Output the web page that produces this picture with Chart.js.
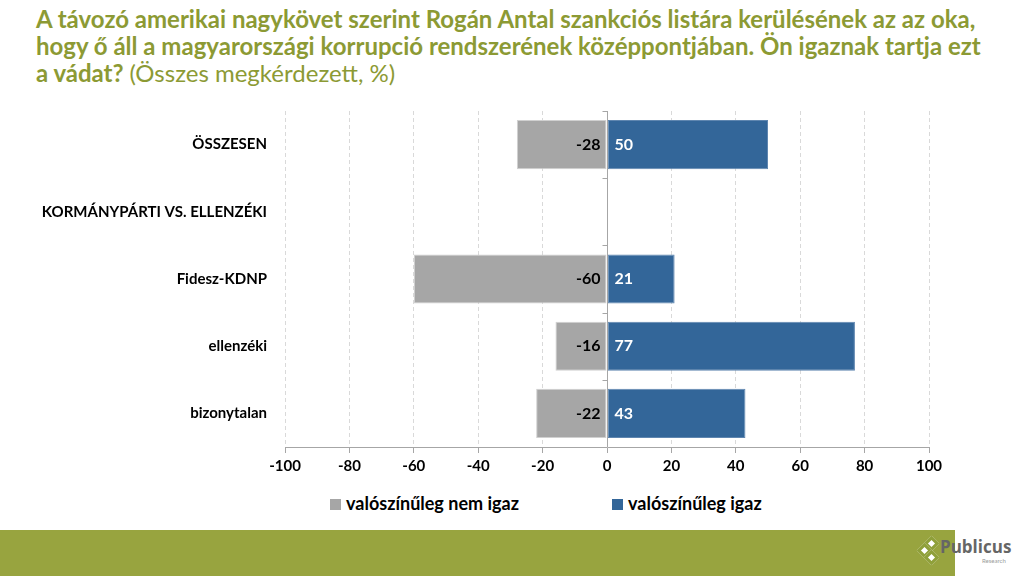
<!DOCTYPE html>
<html>
<head>
<meta charset="utf-8">
<script src="https://cdn.jsdelivr.net/npm/chart.js@4"></script>
<style>
  html, body { margin: 0; padding: 0; background: #fff; }
  body { width: 1024px; height: 576px; position: relative; overflow: hidden; font-family: Lato, 'Open Sans', sans-serif; }
  #title { position: absolute; left: 36px; top: 5px; width: 990px; color: #8c9a34; font-size: 24px; line-height: 27px; font-weight: bold; white-space: nowrap; }
  #title span { font-weight: normal; }
  #wrap { position: absolute; left: 0; top: 92px; width: 1024px; height: 388px; }
  #legend { position: absolute; top: 492px; left: 0; width: 1024px; font-size: 18px; font-weight: bold; color: #000; }
  .item { position: absolute; top: 0; white-space: nowrap; }
  .sw { display: inline-block; width: 11px; height: 11px; margin-right: 5px; vertical-align: 0px; }
  #footer { position: absolute; left: 0; top: 530px; width: 955px; height: 46px; background: #98a43f; }
  #logo { position: absolute; left: 918px; top: 537px; }
  .dia { position: absolute; width: 5px; height: 5px; transform: rotate(45deg); border: 3px solid #8fa03a; background: #fff; }
  #logo .name { position: absolute; left: 22px; top: -2px; font-size: 17px; font-weight: bold; color: #666; font-family: 'Open Sans', sans-serif; }
  #logo .res { position: absolute; left: 64px; top: 20px; font-size: 6px; color: #999; }
</style>
</head>
<body>
<div id="title">A távozó amerikai nagykövet szerint Rogán Antal szankciós listára kerülésének az az oka,<br>hogy ő áll a magyarországi korrupció rendszerének középpontjában. Ön igaznak tartja ezt<br>a vádat? <span>(Összes megkérdezett, %)</span></div>
<div id="wrap"><canvas id="chart"></canvas></div>
<div id="legend">
  <div class="item" style="left:330px"><span class="sw" style="background:#a6a6a6"></span>valószínűleg nem igaz</div>
  <div class="item" style="left:612px"><span class="sw" style="background:#336699"></span>valószínűleg igaz</div>
</div>
<div id="footer"></div>
<div id="logo">
  <div class="dia" style="left:8px;top:1px"></div>
  <div class="dia" style="left:1px;top:8px"></div>
  <div class="dia" style="left:8px;top:15px"></div>
  <div class="name">Publicus</div>
  <div class="res">Research</div>
</div>
<script>
const categories = ['ÖSSZESEN', 'KORMÁNYPÁRTI VS. ELLENZÉKI', 'Fidesz-KDNP', 'ellenzéki', 'bizonytalan'];
const notTrue = [-28, null, -60, -16, -22];
const isTrue = [50, null, 21, 77, 43];
const seriesNames = ['valószínűleg nem igaz', 'valószínűleg igaz'];
const xTicks = [-100, -80, -60, -40, -20, 0, 20, 40, 60, 80, 100];

const FONT = "Lato, 'Open Sans', sans-serif";

const zeroLine = {
  id: 'zeroLine',
  afterDatasetsDraw(chart) {
    const { ctx, chartArea, scales } = chart;
    const x0 = Math.round(scales.x.getPixelForValue(0)) + 0.5;
    ctx.save();
    ctx.strokeStyle = '#a6a6a6';
    ctx.lineWidth = 1;
    ctx.beginPath();
    ctx.moveTo(x0, chartArea.top);
    ctx.lineTo(x0, chartArea.bottom);
    for (let i = 0; i < categories.length; i++) {
      const y = Math.round(scales.y.getPixelForValue(i - 0.5)) + 0.5;
      ctx.moveTo(x0 - 5, y);
      ctx.lineTo(x0, y);
    }
    ctx.stroke();

    // value labels
    ctx.font = 'bold 16px ' + FONT;
    ctx.textBaseline = 'middle';
    chart.data.datasets.forEach((ds, di) => {
      const meta = chart.getDatasetMeta(di);
      meta.data.forEach((bar, i) => {
        const v = ds.data[i];
        if (v === null || v === undefined) return;
        if (v < 0) {
          ctx.fillStyle = '#000';
          ctx.textAlign = 'right';
          ctx.fillText(String(v), x0 - 7, bar.y);
        } else {
          ctx.fillStyle = '#fff';
          ctx.textAlign = 'left';
          ctx.fillText(String(v), x0 + 7, bar.y);
        }
      });
    });
    ctx.restore();
  }
};

new Chart(document.getElementById('chart'), {
  type: 'bar',
  data: {
    labels: categories,
    datasets: [
      { label: seriesNames[0], data: notTrue, backgroundColor: '#a6a6a6', borderColor: '#d0d0d0', borderWidth: 1, borderSkipped: false, categoryPercentage: 1, barPercentage: 0.73 },
      { label: seriesNames[1], data: isTrue, backgroundColor: '#336699', borderColor: '#5f86b0', borderWidth: 1, borderSkipped: false, categoryPercentage: 1, barPercentage: 0.73 }
    ]
  },
  options: {
    indexAxis: 'y',
    responsive: true,
    maintainAspectRatio: false,
    animation: false,
    layout: { padding: { top: 11, right: 95, bottom: 0, left: 0 } },
    plugins: { legend: { display: false }, tooltip: { enabled: false } },
    scales: {
      x: {
        min: -100, max: 100,
        afterBuildTicks: s => { s.ticks = xTicks.map(v => ({ value: v })); },
        afterFit: s => { s.height = 33; },
        grid: { color: '#d9d9d9', drawTicks: true, tickLength: 6, tickColor: '#a6a6a6', tickBorderDash: [] },
        border: { color: '#a6a6a6', dash: [4, 3] },
        ticks: { color: '#000', font: { family: FONT, size: 15, weight: 'bold' }, padding: 4 }
      },
      y: {
        stacked: true,
        afterFit: s => { s.width = 285; },
        grid: { display: false },
        border: { display: false },
        ticks: { color: '#000', font: { family: FONT, size: 15, weight: 'bold' }, padding: 10 }
      }
    }
  },
  plugins: [zeroLine]
});
</script>
</body>
</html>
